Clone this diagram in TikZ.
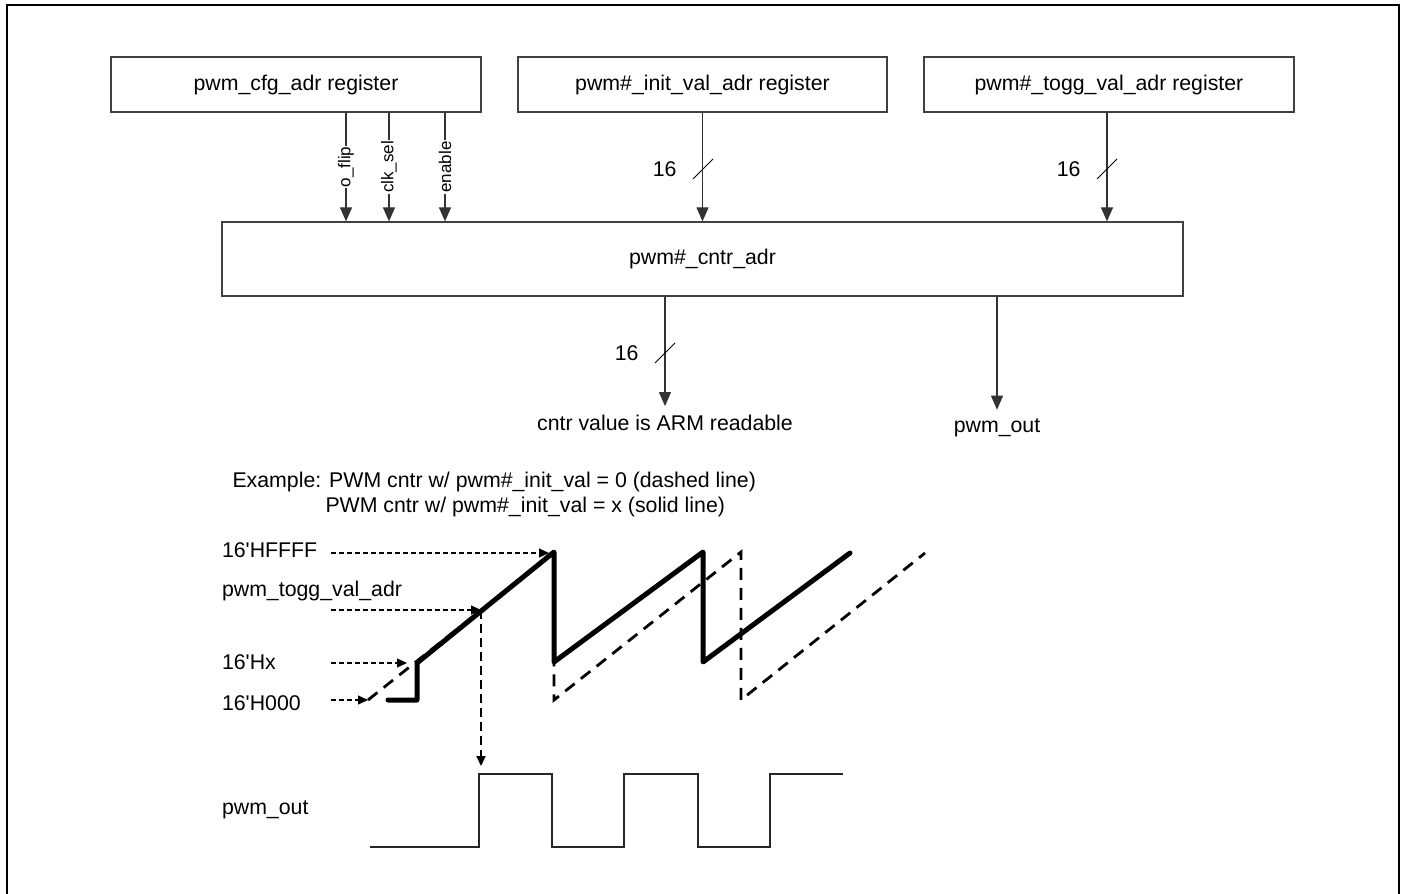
\documentclass[tikz,border=0pt]{standalone}
\usepackage{fontspec}
\setmainfont{Liberation Sans}
\usetikzlibrary{arrows.meta,positioning}

\begin{document}
\begin{tikzpicture}[x=1pt, y=-1pt, font=\fontsize{21.3}{25}\selectfont,
                    reg/.style={draw=black!75, line width=1.3pt, minimum height=55pt, inner sep=0pt},
                    sig/.style={draw=black!80, line width=1.2pt, -{Triangle[width=12pt,length=14pt]}},
                    ctl/.style={fill=white, rotate=90, inner sep=1pt, font=\fontsize{17}{20}\selectfont},
                    guide/.style={black, line width=1.3pt, dash pattern=on 5pt off 3pt, -{Triangle[width=9pt,length=10pt]}},
                    ramp/.style={line width=5pt, line cap=round, line join=round},
                    rampzero/.style={line width=2.8pt, dash pattern=on 12pt off 8pt},
                    wave/.style={draw=black!85, line width=1.5pt}]

\useasboundingbox (0,0) rectangle (1403,894);
\draw[line width=2.5pt] (7,894) -- (7,5) -- (1399,5) -- (1399,894);

\node[reg, minimum width=370] (cfg) at (296,84.5) {pwm\_cfg\_adr register};
\node[reg, minimum width=369] (init) at (702.5,84.5) {pwm\#\_init\_val\_adr register};
\node[reg, minimum width=370] (togg) at (1109,84.5) {pwm\#\_togg\_val\_adr register};
\node[reg, minimum width=961, minimum height=74] (cntr) at (702.5,259) {pwm\#\_cntr\_adr};

\foreach \x/\lbl in {346/o\_flip, 389/clk\_sel, 445/enable} {
  \coordinate (t) at (\x,0);
  \draw[sig] (cfg.south -| t) -- node[ctl] {\lbl} (cntr.north -| t);
}

\draw[sig] (init.south) -- (init.south |- cntr.north);
\draw[sig] ([xshift=-2pt]togg.south) -- ([xshift=-2pt]togg.south |- cntr.north);

\node[anchor=base] (arm) at (665,430) {cntr value is ARM readable};
\node[anchor=base] (out) at (997,432) {pwm\_out};
\draw[sig] (cntr.south -| arm) -- ([yshift=5pt]arm.north);
\draw[sig] (cntr.south -| out) -- ([yshift=5pt]out.north);

\coordinate (b1) at (703,169);
\coordinate (b2) at (1107,169);
\coordinate (b3) at (665,353);
\foreach \b in {b1,b2,b3} {
  \draw[line width=1pt] (\b) ++(-10,10) -- ++(20,-20);
  \node[left=23pt of \b] {16};
}

\node[anchor=west] (ex) at (229,482) {Example: PWM cntr w/ pwm\#\_init\_val = 0 (dashed line)};
\node[anchor=west] (exb) at (322,507) {PWM cntr w/ pwm\#\_init\_val = x (solid line)};

\node[anchor=west] (hffff) at (218.5,550) {16{\textquotesingle}HFFFF};
\node[anchor=west] (htogg) at (218.5,591) {pwm\_togg\_val\_adr};
\node[anchor=west] (hx) at (218.5,662) {16{\textquotesingle}Hx};
\node[anchor=west] (hzero) at (218.5,703) {16{\textquotesingle}H000};

\coordinate (pk) at (554,552);
\coordinate (tg) at (481,610);
\coordinate (lx) at (417,663);
\coordinate (lz) at (368,700);
\coordinate (hi) at (481,774);
\foreach \n/\y in {a/553, b/610, c/663, d/700}
  \coordinate (g\n) at (331,\y);

\draw[guide, shorten >=5pt] (ga) -- (ga -| pk);
\draw[guide] (gb) -- (tg);
\draw[guide, shorten >=10pt] (gc) -- (gc -| lx);
\draw[guide] (gd) -- (lz);

\draw[rampzero] (lz) -- (pk) -- (554,700) -- (741,552) -- (741,700) -- (925,553);
\draw[ramp] (388,700) -- (417,700) -- (lx) -- (pk) -- (554,662) -- (703,552) -- (703,662) -- (850,553);

\draw[guide, line width=1.8pt, dash pattern=on 9pt off 5pt, shorten >=8pt] (tg) -- (hi);

\node[anchor=west] (pwmlbl) at (218.5,810) {pwm\_out};
\draw[wave] (370,847) -- (479,847) -- (479,774) -- (552,774) -- (552,847) -- (624,847) -- (624,774)
            -- (698,774) -- (698,847) -- (770,847) -- (770,774) -- (843,774);

\end{tikzpicture}
\end{document}
